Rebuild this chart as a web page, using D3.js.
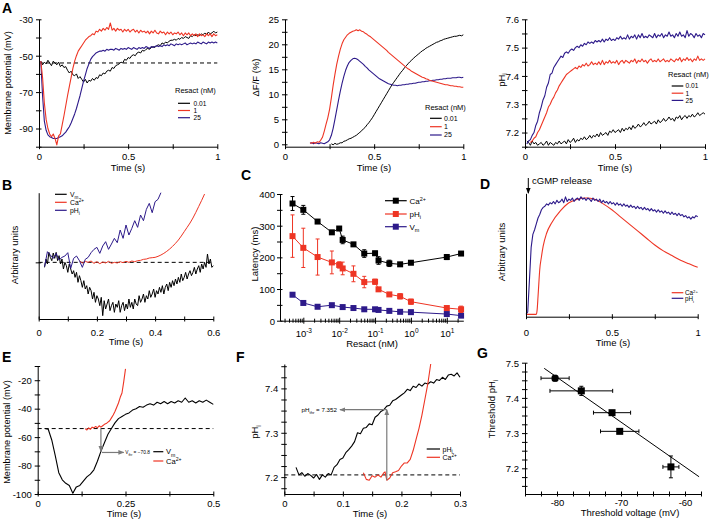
<!DOCTYPE html>
<html><head><meta charset="utf-8">
<script src="https://cdn.jsdelivr.net/npm/d3@7"></script>
<style>
body{margin:0;background:#fff}
svg{display:block}
</style></head><body>
<svg id="c" width="709" height="523"></svg>
<script>
// ---------------- DATA ----------------
// Panel A (left): membrane potential, sampled every 0.01 s from 0.01 s
const a1Start = 0.01, a1Step = 0.01;
const a1Black = [-53,-55,-53.5,-54.5,-52.5,-54,-55.5,-53,-54,-55,
 -53.5,-56,-55,-56.5,-56,-58,-59.5,-58.5,-60.5,-61,
 -60,-62.5,-61.5,-63,-64.5,-63,-65,-63.5,-64,-62.5,
 -63.5,-62,-62.5,-60.5,-61,-59.5,-60,-58.5,-58,-58.5,
 -56.5,-57,-55.5,-55,-54.5,-53.5,-54,-52,-52.5,-51,
 -51.5,-50,-49.5,-50,-48.5,-48,-48.5,-47,-47.5,-46.5,
 -46,-46.5,-45.5,-45,-45.5,-44.5,-44,-44.5,-43,-43.5,
 -42.5,-43,-42,-41.5,-41.5,-41,-41.5,-40.5,-41,-40,
 -40.5,-39.5,-40,-40.5,-39,-39.5,-38.5,-39,-38.5,-39,
 -38,-38.5,-37.5,-38.5,-37,-38,-37.5,-36.5,-37.5,-37];
const a1Red = [-53,-62,-76,-85,-90,-93,-94.5,-93,-95.5,-99,
 -94,-93,-88,-83,-77.5,-72,-67,-62,-57,-53,
 -50,-47.5,-46,-44.5,-43,-41.5,-40.5,-39.5,-39,-38,
 -38.5,-36.5,-37,-35.5,-36.5,-35,-36,-34.5,-35.5,-32,
 -36,-35,-36.5,-35,-36,-35.5,-37,-35.5,-36.5,-35.5,
 -37,-36,-35.5,-37,-36,-37.5,-36,-37,-36.5,-37.5,
 -36.5,-38,-36.5,-37.5,-36,-37.5,-38,-36.5,-37.5,-37,
 -38.5,-37,-38,-37,-38.5,-37.5,-38,-37,-38.5,-37.5,
 -39,-37.5,-38.5,-37.5,-39,-38,-39,-38,-39.5,-38,
 -39,-38.5,-39.5,-38,-39,-38,-39.5,-38,-39,-38.5];
const a1Blue = [-53,-72,-86,-91,-93.5,-94.5,-95,-95.5,-95.5,-95.5,
 -95,-94.5,-94,-93,-92,-90.5,-89,-87,-84.5,-82,
 -79,-75.5,-72,-68,-64,-60.5,-57,-54.5,-52,-50.5,
 -49.5,-48.5,-48,-47.5,-47.5,-47,-47.5,-46.5,-47,-46.5,
 -46.5,-47,-46,-46.5,-47,-46,-46.5,-46,-46.5,-45.5,
 -46,-46.5,-45.5,-46,-46.5,-45.5,-46,-45.5,-46,-45,
 -45.5,-46,-45,-45.5,-45,-44.5,-45,-44.5,-45,-44,
 -44.5,-44,-44.5,-43.5,-44,-44.5,-43.5,-44,-43.5,-44,
 -43.5,-43,-44,-43.5,-43,-43.5,-43,-43.5,-42.5,-43,
 -43.5,-42.5,-43,-43.5,-42.5,-43,-42.5,-43,-42.5,-43];
const a1Rest = -54;

// Panel A (middle): dF/F (%), sampled every 0.01 s
const a2RedStart = 0.14, a2BlueStart = 0.14, a2BlackStart = 0.26, a2Step = 0.01;
const a2Red = [0.3,0.2,0.4,0.2,0.5,0.4,0.8,1.4,2.6,4.0,
 5.3,7.0,9.3,11.8,14.0,16.0,17.6,19.0,20.1,20.9,
 21.4,21.9,22.2,22.4,22.6,22.7,22.9,22.7,22.9,22.6,
 22.5,22.2,22.0,21.7,21.5,21.2,20.9,20.6,20.3,20.0,
 19.7,19.4,19.1,18.8,18.4,18.1,17.8,17.5,17.2,16.9,
 16.6,16.3,16.0,15.7,15.4,15.1,14.9,14.6,14.4,14.2,
 14.0,13.8,13.6,13.4,13.3,13.1,13.0,12.8,12.7,12.6,
 12.5,12.4,12.3,12.2,12.1,12.0,11.9,11.9,11.8,11.7,
 11.7,11.6,11.6,11.5,11.5,11.4,11.4];
const a2Blue = [0.2,0.3,0.1,0.3,0.2,0.1,0.3,0.2,0.1,0.3,
 0.5,0.9,1.8,3.2,5.0,6.9,8.8,10.6,12.2,13.6,
 14.8,15.7,16.4,16.8,17.1,17.2,17.1,16.9,16.6,16.3,
 16.0,15.6,15.3,14.9,14.6,14.3,14.0,13.7,13.4,13.1,
 12.9,12.7,12.5,12.3,12.1,12.0,11.9,11.8,11.8,11.7,
 11.8,11.8,11.9,11.9,12.0,12.0,12.1,12.1,12.2,12.2,
 12.3,12.4,12.4,12.5,12.5,12.6,12.6,12.7,12.7,12.8,
 12.8,12.9,12.9,13.0,13.0,13.1,13.1,13.2,13.2,13.2,
 13.3,13.3,13.3,13.4,13.4,13.3,13.4];
const a2Black = [0.1,-0.1,0.2,0.0,0.1,0.3,0.3,0.6,0.7,0.9,
 1.1,1.2,1.4,1.6,1.8,2.1,2.4,2.7,3.1,3.4,
 3.9,4.3,4.8,5.3,5.9,6.5,7.1,7.7,8.3,8.9,
 9.5,10.1,10.7,11.3,11.9,12.4,12.9,13.4,13.9,14.4,
 14.8,15.3,15.7,16.1,16.5,16.8,17.2,17.5,17.8,18.1,
 18.4,18.7,18.9,19.2,19.4,19.6,19.8,20.0,20.2,20.4,
 20.5,20.7,20.8,21.0,21.1,21.2,21.3,21.4,21.5,21.6,
 21.6,21.7,21.8,21.7,21.9];

// Panel A (right): pHi, sampled every 0.01 s
const a3BlueStart = 0.01, a3RedStart = 0.03, a3BlackStart = 0.01, a3Step = 0.01;
const a3Blue = [7.16,7.17,7.175,7.19,7.2,7.225,7.24,7.27,7.29,7.315,
 7.33,7.36,7.375,7.405,7.41,7.43,7.44,7.45,7.46,7.47,
 7.465,7.48,7.485,7.48,7.49,7.495,7.49,7.5,7.505,7.5,
 7.51,7.505,7.515,7.51,7.52,7.515,7.52,7.515,7.525,7.52,
 7.525,7.52,7.53,7.52,7.53,7.525,7.535,7.525,7.53,7.525,
 7.535,7.53,7.54,7.53,7.535,7.53,7.545,7.53,7.54,7.535,
 7.545,7.53,7.545,7.535,7.55,7.535,7.54,7.535,7.545,7.54,
 7.535,7.55,7.535,7.545,7.54,7.55,7.535,7.545,7.54,7.555,
 7.54,7.545,7.535,7.55,7.54,7.555,7.54,7.545,7.535,7.56,
 7.54,7.55,7.545,7.535,7.55,7.54,7.545,7.535,7.55,7.545];
const a3Red = [7.165,7.17,7.18,7.185,7.2,7.21,7.225,7.24,7.255,7.27,
 7.29,7.3,7.315,7.325,7.34,7.35,7.365,7.375,7.385,7.395,
 7.405,7.41,7.415,7.42,7.425,7.43,7.425,7.435,7.43,7.44,
 7.435,7.445,7.435,7.44,7.45,7.44,7.445,7.44,7.45,7.44,
 7.455,7.44,7.45,7.445,7.455,7.445,7.45,7.445,7.455,7.44,
 7.45,7.455,7.445,7.455,7.45,7.445,7.455,7.45,7.46,7.445,
 7.455,7.45,7.46,7.45,7.455,7.445,7.455,7.46,7.45,7.455,
 7.45,7.46,7.45,7.455,7.46,7.45,7.455,7.45,7.46,7.455,
 7.45,7.46,7.455,7.465,7.45,7.46,7.455,7.465,7.455,7.46,
 7.45,7.46,7.455,7.47,7.455,7.46,7.455,7.46];
const a3Black = [7.17,7.165,7.155,7.17,7.16,7.165,7.155,7.16,7.165,7.155,
 7.16,7.17,7.155,7.165,7.16,7.155,7.165,7.16,7.17,7.16,
 7.165,7.17,7.16,7.175,7.165,7.17,7.18,7.165,7.175,7.17,
 7.18,7.175,7.185,7.175,7.18,7.19,7.18,7.19,7.185,7.195,
 7.185,7.2,7.19,7.195,7.2,7.19,7.205,7.2,7.21,7.2,
 7.205,7.21,7.2,7.215,7.205,7.215,7.21,7.22,7.21,7.225,
 7.215,7.22,7.23,7.22,7.225,7.235,7.225,7.23,7.24,7.23,
 7.235,7.24,7.23,7.245,7.235,7.24,7.25,7.24,7.245,7.255,
 7.245,7.25,7.24,7.255,7.25,7.26,7.245,7.255,7.26,7.25,
 7.26,7.255,7.265,7.255,7.26,7.27,7.26,7.265,7.27,7.265];
const resactLegend = ["0.01", "1", "25"];

// Panel B: arbitrary units (0 = resting level)
const bBlackStart = 0.02, bBlackStep = 0.005;
const bBlack = [-0.15,0.1,-0.05,0.3,0.15,0.05,0.28,0.12,0.3,0.05,
 0.2,-0.05,0.1,-0.2,0.0,-0.1,-0.3,-0.05,-0.2,-0.35,
 -0.25,-0.45,-0.3,-0.6,-0.4,-0.55,-0.75,-0.55,-0.8,-0.7,
 -0.95,-0.75,-0.85,-1.1,-0.9,-1.2,-1.0,-1.1,-1.3,-1.05,
 -1.6,-1.15,-1.4,-1.25,-1.1,-1.45,-1.3,-1.2,-1.5,-1.25,
 -1.35,-1.15,-1.5,-1.3,-1.2,-1.45,-1.25,-1.4,-1.1,-1.35,
 -1.2,-1.4,-1.1,-1.25,-1.3,-1.0,-1.2,-1.1,-0.95,-1.2,
 -1.0,-1.1,-0.85,-1.05,-0.95,-0.8,-1.05,-0.85,-0.95,-0.75,
 -0.9,-0.7,-0.95,-0.75,-0.65,-0.85,-0.6,-0.75,-0.55,-0.7,
 -0.5,-0.65,-0.45,-0.6,-0.35,-0.55,-0.45,-0.3,-0.5,-0.35,
 -0.25,-0.4,-0.3,-0.15,-0.35,-0.2,-0.1,-0.3,-0.05,-0.2,
 0.0,-0.15,0.25,-0.05,0.1,-0.15,-0.1];
const bBlueStart = 0.02, bBlueStep = 0.01;
const bBlue = [-0.13,0.32,0.22,0.12,0.27,0.07,0.15,0.19,0.29,-0.18,
 0.12,0.19,0.05,-0.15,0.09,0.15,0.29,0.39,0.45,0.27,
 0.49,0.62,0.39,0.55,0.72,0.59,0.97,0.72,1.12,0.82,
 1.02,1.25,1.05,1.42,1.25,1.59,1.77,1.49,1.82,1.89,2.09];
const bRedStart = 0.14, bRedStep = 0.01;
const bRed = [0.05,-0.02,0.03,0.0,0.04,-0.03,0.02,-0.04,0.01,-0.02,
 0.03,-0.03,0.0,-0.02,0.02,-0.01,0.03,0.0,0.04,0.02,
 0.05,0.06,0.09,0.1,0.13,0.14,0.15,0.18,0.22,0.27,
 0.33,0.4,0.48,0.57,0.67,0.79,0.92,1.05,1.18,1.33,
 1.5,1.68,1.86,2.05];

// Panel C: latency (ms) vs resact (nM)
const cResact = [0.0005,0.001,0.0025,0.00625,0.01,0.0125,0.025,0.05,0.1,0.125,0.25,0.5,1,10,25];
const cCa    = [370,350,313,279,291,255,241,212,213,190,181,178,183,201,212];
const cCaErr = [22,14,4,4,6,12,4,12,6,12,10,4,4,8,4];
const cPh    = [267,230,201,184,176,165,148,122,123,99,83,77,60,40,36];
const cPhErr = [67,62,57,36,10,20,25,18,8,5,4,8,8,4,10];
const cVmResact = [0.0005,0.001,0.0025,0.00625,0.0125,0.025,0.05,0.1,0.125,0.25,0.5,1,10,25];
const cVm    = [82,56,44,49,43,40,36,36,34,31,28,27,21,16];
const cTickLabels = [0.001,0.01,0.1,1,10];

// Panel D: normalized signals
const dBlueStart = 0, dBlueStep = 0.01;
const dBlue = [0.01,0.03,0.3,0.58,0.69,0.73,0.78,0.83,0.86,0.9,
 0.92,0.93,0.95,0.94,0.96,0.95,0.97,0.95,0.98,0.96,
 0.97,0.99,0.96,1.01,0.97,0.99,0.98,1.0,0.97,0.99,
 1.0,0.98,1.01,0.99,1.0,0.98,1.0,0.99,0.97,1.0,
 0.98,0.99,0.97,0.99,0.96,0.98,0.96,0.97,0.95,0.97,
 0.95,0.96,0.94,0.96,0.94,0.95,0.93,0.95,0.93,0.94,
 0.92,0.94,0.92,0.93,0.91,0.93,0.91,0.92,0.9,0.92,
 0.9,0.91,0.89,0.91,0.89,0.9,0.88,0.9,0.88,0.89,
 0.87,0.89,0.87,0.88,0.86,0.88,0.86,0.87,0.85,0.87,
 0.85,0.86,0.84,0.85,0.83,0.84,0.82,0.84,0.83,0.85,0.84];
const dRedT = [0,0.02,0.04,0.06,0.065,0.07,0.075,0.08,0.09,0.1,0.12,0.15,0.2,0.25,0.3,0.35,0.4,0.45,0.5,0.55,0.6,0.65,0.7,0.75,0.8,0.85,0.9,0.95,1.0];
const dRed  = [0.01,0.01,0.01,0.01,0.05,0.16,0.28,0.39,0.5,0.59,0.7,0.79,0.89,0.96,0.99,1.0,0.99,0.95,0.9,0.84,0.78,0.72,0.66,0.6,0.55,0.51,0.47,0.44,0.41];

// Panel E: membrane potential (mV)
const eBlackStart = 0.02, eBlackStep = 0.01;
const eBlack = [-54,-54.5,-62,-73,-85,-90,-92.5,-94,-99.5,-95,
 -94,-91,-88,-86,-83,-77,-70,-64,-58,-54,
 -50,-47,-45.5,-44,-43,-41,-40,-38.5,-39,-37.5,
 -36.5,-37.5,-35.5,-36.5,-35,-36.5,-35,-36,-34.5,-35.5,
 -32.5,-35.5,-34.5,-36,-34.5,-35.5,-34,-35.5,-37];
const eRedStart = 0.135, eRedStep = 0.005;
const eRed = [-54,-55,-53.5,-54.5,-53,-53.5,-52.5,-53.5,-52,-53,-52,-51,-50.5,-49.5,-48.5,-46.5,-44.5,-42,-39,-36,-32,-29,-21,-12];
const eThrV = -70.8, eThrT = [0.18, 0.245];

// Panel F: pHi
const fBlackStart = 0.02, fBlackStep = 0.005;
const fBlack = [7.222,7.205,7.21,7.202,7.208,7.204,7.198,7.206,7.195,7.205,
 7.2,7.208,7.205,7.222,7.228,7.24,7.243,7.255,7.262,7.27,
 7.28,7.3,7.298,7.31,7.312,7.32,7.318,7.335,7.34,7.348,
 7.352,7.36,7.362,7.372,7.375,7.38,7.385,7.39,7.398,7.395,
 7.405,7.402,7.41,7.405,7.412,7.41,7.415,7.412,7.42,7.418,
 7.425,7.42,7.43,7.432,7.428,7.435,7.425];
const fRedT = [0.135,0.14,0.145,0.15,0.155,0.16,0.165,0.17,0.172,0.175,0.18,0.185,0.19,0.195,0.2,0.205,0.21,0.215,0.22,0.225,0.23,0.235,0.24,0.245,0.25];
const fRed  = [7.21,7.195,7.193,7.203,7.2,7.205,7.2,7.21,7.212,7.193,7.198,7.21,7.212,7.215,7.225,7.232,7.232,7.24,7.26,7.285,7.31,7.34,7.375,7.41,7.455];
const fRest = 7.205, fThrPH = 7.352, fThrT = [0.175, 0.095];

// Panel G: threshold pHi vs threshold voltage
const gV    = [-80.3,-76.2,-71.4,-70.2,-62.2];
const gVErr = [2.2,4.9,2.9,3.0,1.25];
const gPH   = [7.456,7.42,7.358,7.305,7.204];
const gPHErr= [0.008,0.013,0.005,0.005,0.031];
const gFitV = [-82.0,-57.8], gFitPH = [7.484,7.176];

// ---------------- DRAWING ----------------
const FONT = '"Liberation Sans", Arial, Helvetica, sans-serif';
const RED = "#ee3524", BLUE = "#2d1a8a", GRAY = "#7a7a7a";
const svg = d3.select("#c").attr("font-family", FONT);

const defs = svg.append("defs");
defs.append("marker").attr("id","ah").attr("viewBox","0 0 10 10").attr("refX",9).attr("refY",5)
  .attr("markerWidth",6).attr("markerHeight",6).attr("orient","auto-start-reverse")
  .attr("markerUnits","userSpaceOnUse")
  .append("path").attr("d","M0,1 L10,5 L0,9 z").attr("fill",GRAY);

function near(arr, d){ return arr.some(v => Math.abs(v - d) < 1e-9); }
function series(start, step, vals){ return vals.map((v,i) => [start + i*step, v]); }
function pairs(ts, vals){ return vals.map((v,i) => [ts[i], v]); }

function xAxis(x, yPos, ticks, labels, labOff){
  const ax = d3.axisBottom(x).tickValues(ticks).tickSizeOuter(0).tickSizeInner(0).tickPadding(0)
    .tickFormat(d => near(labels, d) ? String(d) : "");
  const g = svg.append("g").attr("transform", `translate(0,${yPos})`).call(ax)
    .attr("font-family", FONT).attr("font-size", 9.5);
  g.select(".domain").attr("stroke","#000");
  g.selectAll(".tick line").attr("y1",-2.5).attr("y2",2.5).attr("stroke","#000");
  g.selectAll(".tick text").attr("y", labOff).attr("dy","0.35em").attr("fill","#000");
  return g;
}
function yAxis(y, xPos, ticks, labels, labOff){
  const ax = d3.axisLeft(y).tickValues(ticks).tickSizeOuter(0).tickSizeInner(0).tickPadding(0)
    .tickFormat(d => near(labels, d) ? String(d) : "");
  const g = svg.append("g").attr("transform", `translate(${xPos},0)`).call(ax)
    .attr("font-family", FONT).attr("font-size", 9.5);
  g.select(".domain").attr("stroke","#000");
  g.selectAll(".tick line").attr("x1",-3).attr("x2",2.5).attr("stroke","#000");
  g.selectAll(".tick text").attr("x", -(labOff||5)).attr("dy","0.35em").attr("fill","#000");
  return g;
}
function txt(x, y, parts, o = {}){
  const fs = o.fs || 9.5;
  const t = svg.append("text").attr("x", x).attr("y", y).attr("font-size", fs)
    .attr("text-anchor", o.anchor || "start").attr("fill", o.fill || "#000");
  if (o.bold) t.attr("font-weight", "bold");
  if (typeof parts === "string") parts = [[parts]];
  let shift = 0;
  parts.forEach(([s, k]) => {
    const target = k === "sup" ? -fs*0.38 : k === "sub" ? fs*0.28 : 0;
    t.append("tspan").attr("dy", target - shift).attr("font-size", k ? fs*0.68 : fs).text(s);
    shift = target;
  });
  return t;
}
// rotated axis title centred at (cx, cy)
function vtitle(cx, cy, parts, fs){
  const f = fs || 9.5;
  return txt(cx + f*0.35, cy, parts, {anchor:"middle", fs:f}).attr("transform", `rotate(-90,${cx + f*0.35},${cy})`);
}
function path(data, x, y, color, w, curve){
  const ln = d3.line().x(d => x(d[0])).y(d => y(d[1]));
  if (curve) ln.curve(curve);
  return svg.append("path").attr("d", ln(data)).attr("fill","none").attr("stroke", color)
    .attr("stroke-width", w || 1).attr("stroke-linejoin","round");
}
function hline(x, y, x0, x1, v){
  svg.append("line").attr("x1", x(x0)).attr("x2", x(x1)).attr("y1", y(v)).attr("y2", y(v))
    .attr("stroke","#000").attr("stroke-width",1).attr("stroke-dasharray","4,3");
}
function legendLine(x0, x1, y, color){
  svg.append("line").attr("x1",x0).attr("x2",x1).attr("y1",y).attr("y2",y).attr("stroke",color).attr("stroke-width",1.2);
}
const SUB = "sub", SUP = "sup";
const LEGFS = 6.6;

// ---- Panel A1 ----
{
  const x = d3.scaleLinear().domain([0,1]).range([39,217.3]);
  const y = d3.scaleLinear().domain([-100,-30]).range([146.7,19.3]);
  hline(x, y, 0, 1, a1Rest);
  path(series(a1Start,a1Step,a1Black), x, y, "#000", 1);
  path(series(a1Start,a1Step,a1Blue), x, y, BLUE, 1.1);
  path(series(a1Start,a1Step,a1Red), x, y, RED, 1.1);
  xAxis(x, 146.7, [0,0.25,0.5,0.75,1], [0,0.5,1], 9.5);
  yAxis(y, 39, [-100,-90,-80,-70,-60,-50,-40,-30], [-90,-70,-50,-30], 6);
  vtitle(8, 83, "Membrane potential (mV)", 9.2);
  txt(128, 171, "Time (s)", {anchor:"middle"}).attr("dy","0.35em");
  txt(175, 93, "Resact (nM)", {fs:7.5});
  ["#000", RED, BLUE].forEach((c,i) => {
    const yy = [103.3,110.5,117.7][i];
    legendLine(178, 190, yy, c);
    txt(193.5, yy+2.4, resactLegend[i], {fs:LEGFS});
  });
}
// ---- Panel A2 ----
{
  const x = d3.scaleLinear().domain([0,1]).range([285,463.3]);
  const y = d3.scaleLinear().domain([-0.5,25]).range([146.8,19.3]);
  path(series(a2BlackStart,a2Step,a2Black), x, y, "#000", 1);
  path(series(a2BlueStart,a2Step,a2Blue), x, y, BLUE, 1.1);
  path(series(a2RedStart,a2Step,a2Red), x, y, RED, 1.1);
  xAxis(x, 146.7, [0,0.25,0.5,0.75,1], [0,0.5,1], 9.5);
  yAxis(y, 285, [0,2.5,5,7.5,10,12.5,15,17.5,20,22.5,25], [0,5,10,15,20,25], 6);
  vtitle(255.5, 77.5, "ΔF/F (%)");
  txt(374, 171, "Time (s)", {anchor:"middle"}).attr("dy","0.35em");
  txt(425, 110, "Resact (nM)", {fs:7.5});
  ["#000", RED, BLUE].forEach((c,i) => {
    const yy = [118.3,126.7,135][i];
    legendLine(430, 441.7, yy, c);
    txt(444, yy+2.4, resactLegend[i], {fs:7});
  });
}
// ---- Panel A3 ----
{
  const x = d3.scaleLinear().domain([0,1]).range([525,705]);
  const y = d3.scaleLinear().domain([7.15,7.6]).range([146.7,19.3]);
  path(series(a3BlackStart,a3Step,a3Black), x, y, "#000", 1);
  path(series(a3RedStart,a3Step,a3Red), x, y, RED, 1.1);
  path(series(a3BlueStart,a3Step,a3Blue), x, y, BLUE, 1.1);
  xAxis(x, 146.7, [0,0.25,0.5,0.75,1], [0,0.5,1], 9.5);
  yAxis(y, 525, [7.15,7.2,7.25,7.3,7.35,7.4,7.45,7.5,7.55,7.6], [7.2,7.3,7.4,7.5,7.6], 6);
  vtitle(501.5, 80, [["pH"],["i",SUB]]);
  txt(615, 171, "Time (s)", {anchor:"middle"}).attr("dy","0.35em");
  txt(668, 77, "Resact (nM)", {fs:7.5});
  ["#000", RED, BLUE].forEach((c,i) => {
    const yy = [86,93.2,100.4][i];
    legendLine(671.7, 683.3, yy, c);
    txt(685.5, yy+2.4, resactLegend[i], {fs:LEGFS});
  });
}
// ---- Panel B ----
{
  const x = d3.scaleLinear().domain([0,0.6]).range([38.7,213.3]);
  const y = d3.scaleLinear().domain([-1.7,2.09]).range([319,192.7]);
  hline(x, y, 0, 0.6, 0);
  path(series(bBlackStart,bBlackStep,bBlack), x, y, "#000", 1);
  path(series(bRedStart,bRedStep,bRed), x, y, RED, 1);
  path(series(bBlueStart,bBlueStep,bBlue), x, y, BLUE, 1);
  xAxis(x, 319, [0,0.1,0.2,0.3,0.4,0.5,0.6], [0,0.2,0.4,0.6], 14);
  yAxis(y, 38.7, [0], [], 6);
  vtitle(15, 255, "Arbitrary units");
  txt(126, 345, "Time (s)", {anchor:"middle"}).attr("dy","0.35em");
  const items = [[[["V"],["m",SUB]], "#000"], [[["Ca"],["2+",SUP]], RED], [[["pH"],["i",SUB]], BLUE]];
  items.forEach(([lab,c],i) => {
    const yy = [194.3,202.3,210.3][i];
    legendLine(55, 66.7, yy, c);
    txt(70, yy+2.4, lab, {fs:6.8});
  });
}
// ---- Panel C ----
{
  const x = d3.scaleLog().domain([Math.pow(10,-3.65), Math.pow(10,1.46)]).range([280,463.3]);
  const y = d3.scaleLinear().domain([0,400]).range([320.7,194]);
  const minor = [];
  for (let e = -4; e <= 1; e++) for (let k = 1; k <= 9; k++) {
    const v = k * Math.pow(10, e);
    if (v >= x.domain()[0] && v <= x.domain()[1]) minor.push(v);
  }
  const gx = xAxis(x, 320.7, minor, [], 12.6);
  gx.selectAll(".tick").filter(d => near(cTickLabels, d)).select("text").each(function(d){
    const t = d3.select(this);
    const e = Math.round(Math.log10(d));
    t.append("tspan").text("10");
    t.append("tspan").attr("dy",-3.5).attr("font-size",6.5).text(String(e));
  });
  gx.selectAll(".tick line").attr("y1", d => near(cTickLabels,d) ? -3 : -2).attr("y2", d => near(cTickLabels,d) ? 3 : 2);
  yAxis(y, 280, [0,50,100,150,200,250,300,350,400], [0,100,200,300,400], 5);
  const SQ = 6;
  function drawSeries(xs, ys, errs, color){
    const pts = xs.map((v,i) => [v, ys[i]]);
    path(pts, x, y, color, 1);
    if (errs) pts.forEach((p,i) => {
      const e = errs[i], cx = x(p[0]);
      svg.append("line").attr("x1",cx).attr("x2",cx).attr("y1",y(p[1]-e)).attr("y2",y(p[1]+e)).attr("stroke",color).attr("stroke-width",1);
      [p[1]-e, p[1]+e].forEach(v => svg.append("line").attr("x1",cx-2).attr("x2",cx+2).attr("y1",y(v)).attr("y2",y(v)).attr("stroke",color).attr("stroke-width",1));
    });
    svg.append("g").selectAll("rect").data(pts).join("rect")
      .attr("x", d => x(d[0]) - SQ/2).attr("y", d => y(d[1]) - SQ/2)
      .attr("width", SQ).attr("height", SQ).attr("fill", color);
  }
  drawSeries(cVmResact, cVm, null, BLUE);
  drawSeries(cResact, cPh, cPhErr, RED);
  drawSeries(cResact, cCa, cCaErr, "#000");
  vtitle(255, 254, "Latency (ms)");
  txt(372, 347, "Resact (nM)", {anchor:"middle"}).attr("dy","0.35em");
  const items = [[[["Ca"],["2+",SUP]], "#000"], [[["pH"],["i",SUB]], RED], [[["V"],["m",SUB]], BLUE]];
  items.forEach(([lab,c],i) => {
    const yy = [200.7,214,226.7][i];
    legendLine(385, 406.7, yy, c);
    svg.append("rect").attr("x",395.8-3).attr("y",yy-3).attr("width",6).attr("height",6).attr("fill",c);
    txt(409.5, yy+3, lab, {fs:8});
  });
}
// ---- Panel D ----
{
  const x = d3.scaleLinear().domain([0,1]).range([526,697.7]);
  const y = d3.scaleLinear().domain([-0.01,1.04]).range([316.7,193.3]);
  path(pairs(dRedT,dRed), x, y, RED, 1.1, d3.curveMonotoneX);
  path(series(dBlueStart,dBlueStep,dBlue), x, y, BLUE, 1.1);
  xAxis(x, 316.7, [0,0.25,0.5,0.75,1], [0,0.5,1], 15.5);
  yAxis(y, 526, [], [], 5);
  svg.append("line").attr("x1",528.3).attr("x2",528.3).attr("y1",178).attr("y2",193)
    .attr("stroke","#000").attr("stroke-width",1);
  svg.append("path").attr("d","M526,188 L528.3,194 L530.6,188 z").attr("fill","#000");
  txt(532, 183.5, "cGMP release", {fs:9.5}).attr("dy","0.35em");
  vtitle(501.5, 252, "Arbitrary units");
  txt(613, 346, "Time (s)", {anchor:"middle"}).attr("dy","0.35em");
  legendLine(671.7, 683.3, 292.7, RED);
  txt(685, 295, [["Ca"],["2+",SUP]], {fs:6.3});
  legendLine(671.7, 683.3, 298.3, BLUE);
  txt(685, 300.8, [["pH"],["i",SUB]], {fs:6.3});
}
// ---- Panel E ----
{
  const x = d3.scaleLinear().domain([0,0.5]).range([37.7,213.3]);
  const y = d3.scaleLinear().domain([-100,-10]).range([494,366]);
  hline(x, y, 0, 0.5, a1Rest);
  path(series(eBlackStart,eBlackStep,eBlack), x, y, "#000", 1.1);
  path(series(eRedStart,eRedStep,eRed), x, y, RED, 1.1);
  svg.append("line").attr("x1",x(eThrT[0])).attr("x2",x(eThrT[0])).attr("y1",y(a1Rest)).attr("y2",y(eThrV)-1)
    .attr("stroke",GRAY).attr("stroke-width",1.2).attr("marker-end","url(#ah)");
  svg.append("line").attr("x1",x(eThrT[0])+1).attr("x2",x(eThrT[1])).attr("y1",y(eThrV)).attr("y2",y(eThrV))
    .attr("stroke",GRAY).attr("stroke-width",1.2).attr("marker-end","url(#ah)");
  txt(x(eThrT[1])+1.5, y(eThrV)+1.7, [["V"],["thr",SUB],[" = −70.8"]], {fs:4.8});
  xAxis(x, 494, [0,0.125,0.25,0.375,0.5], [0,0.25,0.5], 10);
  yAxis(y, 37.7, [-100,-90,-80,-70,-60,-50,-40,-30,-20,-10], [-100,-80,-60,-40,-20], 6);
  vtitle(6.5, 432, "Membrane potential (mV)", 9.2);
  txt(124, 517, "Time (s)", {anchor:"middle"}).attr("dy","0.35em");
  legendLine(153.3, 163.3, 451.7, "#000");
  txt(166, 454.4, [["V"],["m",SUB]], {fs:7.6});
  legendLine(153.3, 163.3, 461, RED);
  txt(166, 463.8, [["Ca"],["2+",SUP]], {fs:7.6});
}
// ---- Panel F ----
{
  const x = d3.scaleLinear().domain([0,0.3]).range([284.3,460]);
  const y = d3.scaleLinear().domain([7.162,7.455]).range([494,364]);
  hline(x, y, 0, 0.3, fRest);
  path(series(fBlackStart,fBlackStep,fBlack), x, y, "#000", 1.1);
  path(pairs(fRedT,fRed), x, y, RED, 1.1);
  svg.append("line").attr("x1",x(fThrT[0])).attr("x2",x(fThrT[0])).attr("y1",y(7.193)).attr("y2",y(fThrPH))
    .attr("stroke",GRAY).attr("stroke-width",1.2).attr("marker-end","url(#ah)");
  svg.append("line").attr("x1",x(fThrT[0])).attr("x2",x(fThrT[1])).attr("y1",y(fThrPH)).attr("y2",y(fThrPH))
    .attr("stroke",GRAY).attr("stroke-width",1.2).attr("marker-end","url(#ah)");
  txt(x(fThrT[1])-3, y(fThrPH)+2.2, [["pH"],["thr",SUB],[" = 7.352"]], {fs:6.2, anchor:"end"});
  xAxis(x, 494, [0,0.05,0.1,0.15,0.2,0.25,0.3], [0,0.1,0.2,0.3], 10);
  yAxis(y, 284.3, [7.175,7.2,7.225,7.25,7.275,7.3,7.325,7.35,7.375,7.4,7.425,7.45], [7.2,7.3,7.4], 6);
  vtitle(255, 432, [["pH"],["i",SUB]]);
  txt(370, 517, "Time (s)", {anchor:"middle"}).attr("dy","0.35em");
  legendLine(426.7, 440, 449, "#000");
  txt(442.5, 451.5, [["pH"],["i",SUB]], {fs:7});
  legendLine(426.7, 440, 457.3, RED);
  txt(442.5, 459.8, [["Ca"],["2+",SUP]], {fs:7});
}
// ---- Panel G ----
{
  const x = d3.scaleLinear().domain([-85,-57.5]).range([525,701]);
  const y = d3.scaleLinear().domain([7.127,7.5]).range([494,362.7]);
  path(pairs(gFitV,gFitPH), x, y, "#000", 1);
  gV.forEach((v,i) => {
    const cx = x(v), cy = y(gPH[i]);
    const x0 = x(v - gVErr[i]), x1 = x(v + gVErr[i]);
    const y0 = y(gPH[i] - gPHErr[i]), y1 = y(gPH[i] + gPHErr[i]);
    const s = svg.append("g").attr("stroke","#000").attr("stroke-width",1);
    s.append("line").attr("x1",x0).attr("x2",x1).attr("y1",cy).attr("y2",cy);
    s.append("line").attr("x1",x0).attr("x2",x0).attr("y1",cy-2).attr("y2",cy+2);
    s.append("line").attr("x1",x1).attr("x2",x1).attr("y1",cy-2).attr("y2",cy+2);
    s.append("line").attr("x1",cx).attr("x2",cx).attr("y1",y0).attr("y2",y1);
    s.append("line").attr("x1",cx-2).attr("x2",cx+2).attr("y1",y0).attr("y2",y0);
    s.append("line").attr("x1",cx-2).attr("x2",cx+2).attr("y1",y1).attr("y2",y1);
    if (i === 0) svg.append("rect").attr("x",cx-3.5).attr("y",cy-3.5).attr("width",7).attr("height",7).attr("rx",2.5).attr("fill","#000");
    else svg.append("rect").attr("x",cx-3.5).attr("y",cy-3.5).attr("width",7).attr("height",7).attr("fill","#000");
  });
  xAxis(x, 494, [-85,-82.5,-80,-77.5,-75,-72.5,-70,-67.5,-65,-62.5,-60,-57.5], [-80,-70,-60], 8.5);
  yAxis(y, 525, [7.15,7.175,7.2,7.225,7.25,7.275,7.3,7.325,7.35,7.375,7.4,7.425,7.45,7.475,7.5], [7.2,7.3,7.4,7.5], 6);
  vtitle(492, 409, [["Threshold pH"],["i",SUB]]);
  txt(630, 516, "Threshold voltage (mV)", {anchor:"middle"}).attr("dy","0.35em");
}
// ---- Panel letters ----
[["A",2,13],["B",2,190],["C",241,180],["D",480,189],["E",2,362],["F",236,362],["G",477,358]]
  .forEach(([l,x,y]) => txt(x, y, l, {fs:14, bold:true}));
</script>
</body></html>
